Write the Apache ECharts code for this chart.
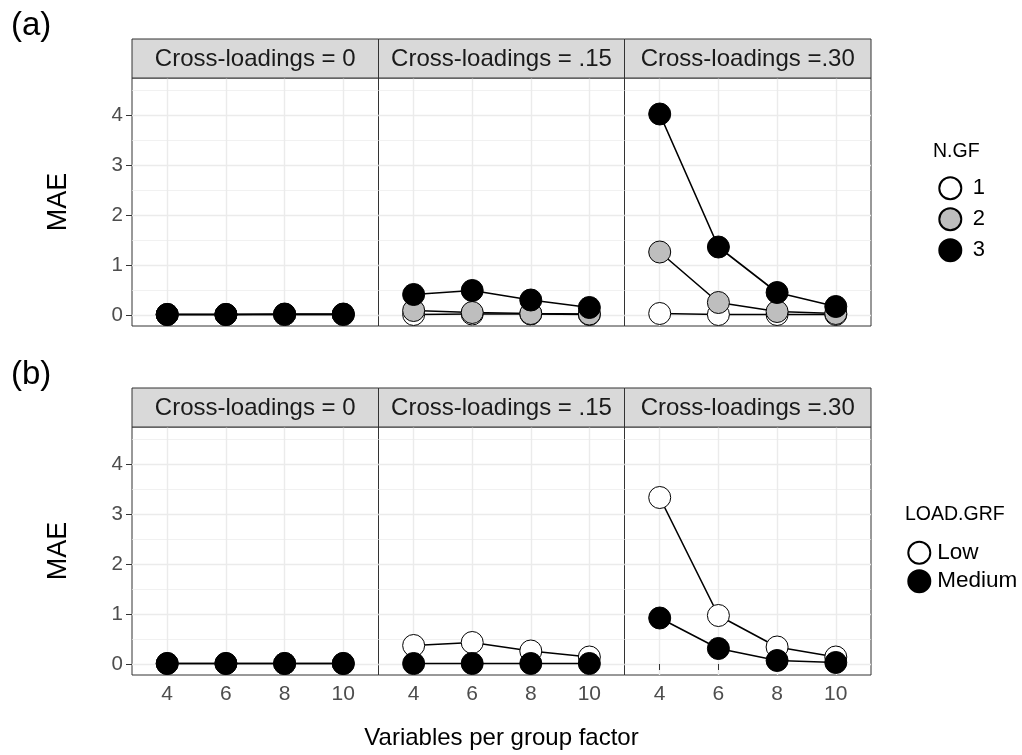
<!DOCTYPE html>
<html><head><meta charset="utf-8">
<script src="https://cdn.jsdelivr.net/npm/echarts@6/dist/echarts.min.js"></script>
<style>html,body{margin:0;padding:0;background:#fff}#c{width:1022px;height:755px}</style>
</head><body><div id="c"></div>
<script>
// ---- data ----
const xValues = [4, 6, 8, 10];
const yTicks = [0, 1, 2, 3, 4];
const yMinorTicks = [0.5, 1.5, 2.5, 3.5, 4.5];
const facetLabels = ['Cross-loadings = 0', 'Cross-loadings = .15', 'Cross-loadings =.30'];
const ngfLevels = ['1', '2', '3'];
const loadLevels = ['Low', 'Medium'];

// panel (a): MAE by N.GF
const a_cl0_ngf1  = [0.01, 0.01, 0.01, 0.01];
const a_cl0_ngf2  = [0.01, 0.01, 0.01, 0.01];
const a_cl0_ngf3  = [0.01, 0.01, 0.02, 0.02];
const a_cl15_ngf1 = [0.01, 0.02, 0.02, 0.01];
const a_cl15_ngf2 = [0.09, 0.05, 0.03, 0.02];
const a_cl15_ngf3 = [0.41, 0.49, 0.30, 0.15];
const a_cl30_ngf1 = [0.03, 0.01, 0.01, 0.01];
const a_cl30_ngf2 = [1.26, 0.25, 0.07, 0.03];
const a_cl30_ngf3 = [4.02, 1.36, 0.45, 0.17];

// panel (b): MAE by LOAD.GRF
const b_cl0_low     = [0.01, 0.01, 0.01, 0.01];
const b_cl0_medium  = [0.01, 0.01, 0.01, 0.01];
const b_cl15_low    = [0.37, 0.43, 0.26, 0.14];
const b_cl15_medium = [0.01, 0.01, 0.01, 0.01];
const b_cl30_low    = [3.33, 0.97, 0.34, 0.14];
const b_cl30_medium = [0.92, 0.31, 0.07, 0.03];

// ---- layout / style ----
const FONT = "'Liberation Sans', Arial, Helvetica, sans-serif";
const cols = [{left: 132, width: 246.5}, {left: 378.5, width: 246}, {left: 624.5, width: 246.5}];
const rows = [{top: 78, height: 248, stripTop: 39}, {top: 427, height: 248, stripTop: 388}];
const fillA = {'1': '#FFFFFF', '2': '#BEBEBE', '3': '#000000'};
const fillB = {'Low': '#FFFFFF', 'Medium': '#000000'};
const panelA = [[a_cl0_ngf1, a_cl0_ngf2, a_cl0_ngf3], [a_cl15_ngf1, a_cl15_ngf2, a_cl15_ngf3], [a_cl30_ngf1, a_cl30_ngf2, a_cl30_ngf3]];
const panelB = [[b_cl0_low, b_cl0_medium], [b_cl15_low, b_cl15_medium], [b_cl30_low, b_cl30_medium]];

const grids = [], xAxes = [], yAxes = [], series = [], graphics = [];
const NG = 6;
for (let r = 0; r < 2; r++) {
  for (let c = 0; c < 3; c++) {
    const gi = r * 3 + c;
    grids.push({left: cols[c].left, top: rows[r].top, width: cols[c].width, height: rows[r].height,
      show: true, borderColor: '#333333', borderWidth: 1, backgroundColor: '#FFFFFF', outerBoundsMode: 'none', containLabel: false});
    xAxes.push({type: 'value', gridIndex: gi, min: 2.8, max: 11.2,
      axisLine: {show: false},
      axisTick: {show: r === 1, customValues: xValues, length: 6, lineStyle: {color: '#333333', width: 1}},
      axisLabel: {show: r === 1, customValues: xValues, color: '#4D4D4D', fontSize: 21, margin: 9, fontFamily: FONT},
      splitLine: {show: true, lineStyle: {color: '#EBEBEB', width: 1.4}}});
    yAxes.push({type: 'value', gridIndex: gi, min: -0.22, max: 4.74,
      axisLine: {show: false},
      axisTick: {show: c === 0, customValues: yTicks, length: 6, lineStyle: {color: '#333333', width: 1}},
      axisLabel: {show: c === 0, customValues: yTicks, color: '#4D4D4D', fontSize: 20.5, margin: 9, fontFamily: FONT},
      splitLine: {show: true, lineStyle: {color: '#EBEBEB', width: 1.4}}});
    // strip
    graphics.push({type: 'rect', shape: {x: cols[c].left, y: rows[r].stripTop, width: cols[c].width, height: rows[r].top - rows[r].stripTop},
      style: {fill: '#D9D9D9', stroke: '#333333', lineWidth: 1}, z: 10});
    graphics.push({type: 'text', x: cols[c].left + cols[c].width / 2, y: (rows[r].stripTop + rows[r].top) / 2 + 1,
      style: {text: facetLabels[c], fontSize: 24, fontFamily: FONT, fill: '#1A1A1A', align: 'center', verticalAlign: 'middle'}, z: 11});
  }
}
// minor horizontal grid lines
for (let gi = 0; gi < NG; gi++) {
  yAxes.push({type: 'value', gridIndex: gi, min: -0.22, max: 4.74, position: 'left',
    axisLine: {show: false}, axisTick: {show: false, customValues: yMinorTicks}, axisLabel: {show: false},
    splitLine: {show: true, lineStyle: {color: '#EBEBEB', width: 0.7}}});
}

function pts(arr) { return xValues.map((x, i) => [x, arr[i]]); }
function addGroup(gi, name, arr, fill) {
  series.push({type: 'line', xAxisIndex: gi, yAxisIndex: gi, data: pts(arr), showSymbol: false, symbol: 'none',
    lineStyle: {color: '#000000', width: 1.6}, z: 2, silent: true, animation: false});
  series.push({type: 'scatter', name: name, xAxisIndex: gi, yAxisIndex: gi, data: pts(arr), symbol: 'circle', symbolSize: 22,
    itemStyle: {color: fill, borderColor: '#000000', borderWidth: 1, opacity: 1}, z: 3, animation: false});
}
for (let c = 0; c < 3; c++) {
  ngfLevels.forEach((lv, k) => addGroup(c, lv, panelA[c][k], fillA[lv]));
  loadLevels.forEach((lv, k) => addGroup(3 + c, lv, panelB[c][k], fillB[lv]));
}

// texts
graphics.push({type: 'text', x: 11, y: 26, style: {text: '(a)', fontSize: 33, fontFamily: FONT, fill: '#000', align: 'left', verticalAlign: 'middle'}});
graphics.push({type: 'text', x: 11, y: 375, style: {text: '(b)', fontSize: 33, fontFamily: FONT, fill: '#000', align: 'left', verticalAlign: 'middle'}});
graphics.push({type: 'text', x: 59, y: 202, rotation: Math.PI / 2, style: {text: 'MAE', fontSize: 27, fontFamily: FONT, fill: '#000', align: 'center', verticalAlign: 'middle'}});
graphics.push({type: 'text', x: 59, y: 551, rotation: Math.PI / 2, style: {text: 'MAE', fontSize: 27, fontFamily: FONT, fill: '#000', align: 'center', verticalAlign: 'middle'}});
graphics.push({type: 'text', x: 501.5, y: 738, style: {text: 'Variables per group factor', fontSize: 24, fontFamily: FONT, fill: '#000', align: 'center', verticalAlign: 'middle'}});
graphics.push({type: 'text', x: 933, y: 152, style: {text: 'N.GF', fontSize: 19.5, fontFamily: FONT, fill: '#000', align: 'left', verticalAlign: 'middle'}});
graphics.push({type: 'text', x: 905, y: 515, style: {text: 'LOAD.GRF', fontSize: 19.5, fontFamily: FONT, fill: '#000', align: 'left', verticalAlign: 'middle'}});

const option = {
  backgroundColor: '#FFFFFF',
  animation: false,
  grid: grids,
  xAxis: xAxes,
  yAxis: yAxes,
  series: series,
  legend: [
    {data: ngfLevels, orient: 'vertical', left: 938.3, top: 176.3, itemWidth: 35, itemHeight: 22, itemGap: 7, icon: 'circle',
      selectedMode: false, padding: 0, textStyle: {fontSize: 22, fontFamily: FONT, color: '#000'}},
    {data: loadLevels, orient: 'vertical', left: 907.3, top: 540.7, itemWidth: 26, itemHeight: 22, itemGap: 4.5, icon: 'circle',
      selectedMode: false, padding: 0, textStyle: {fontSize: 22.5, fontFamily: FONT, color: '#000'}}
  ],
  graphic: graphics
};
const chart = echarts.init(document.getElementById('c'), null, {renderer: 'canvas'});
chart.setOption(option);
</script></body></html>
